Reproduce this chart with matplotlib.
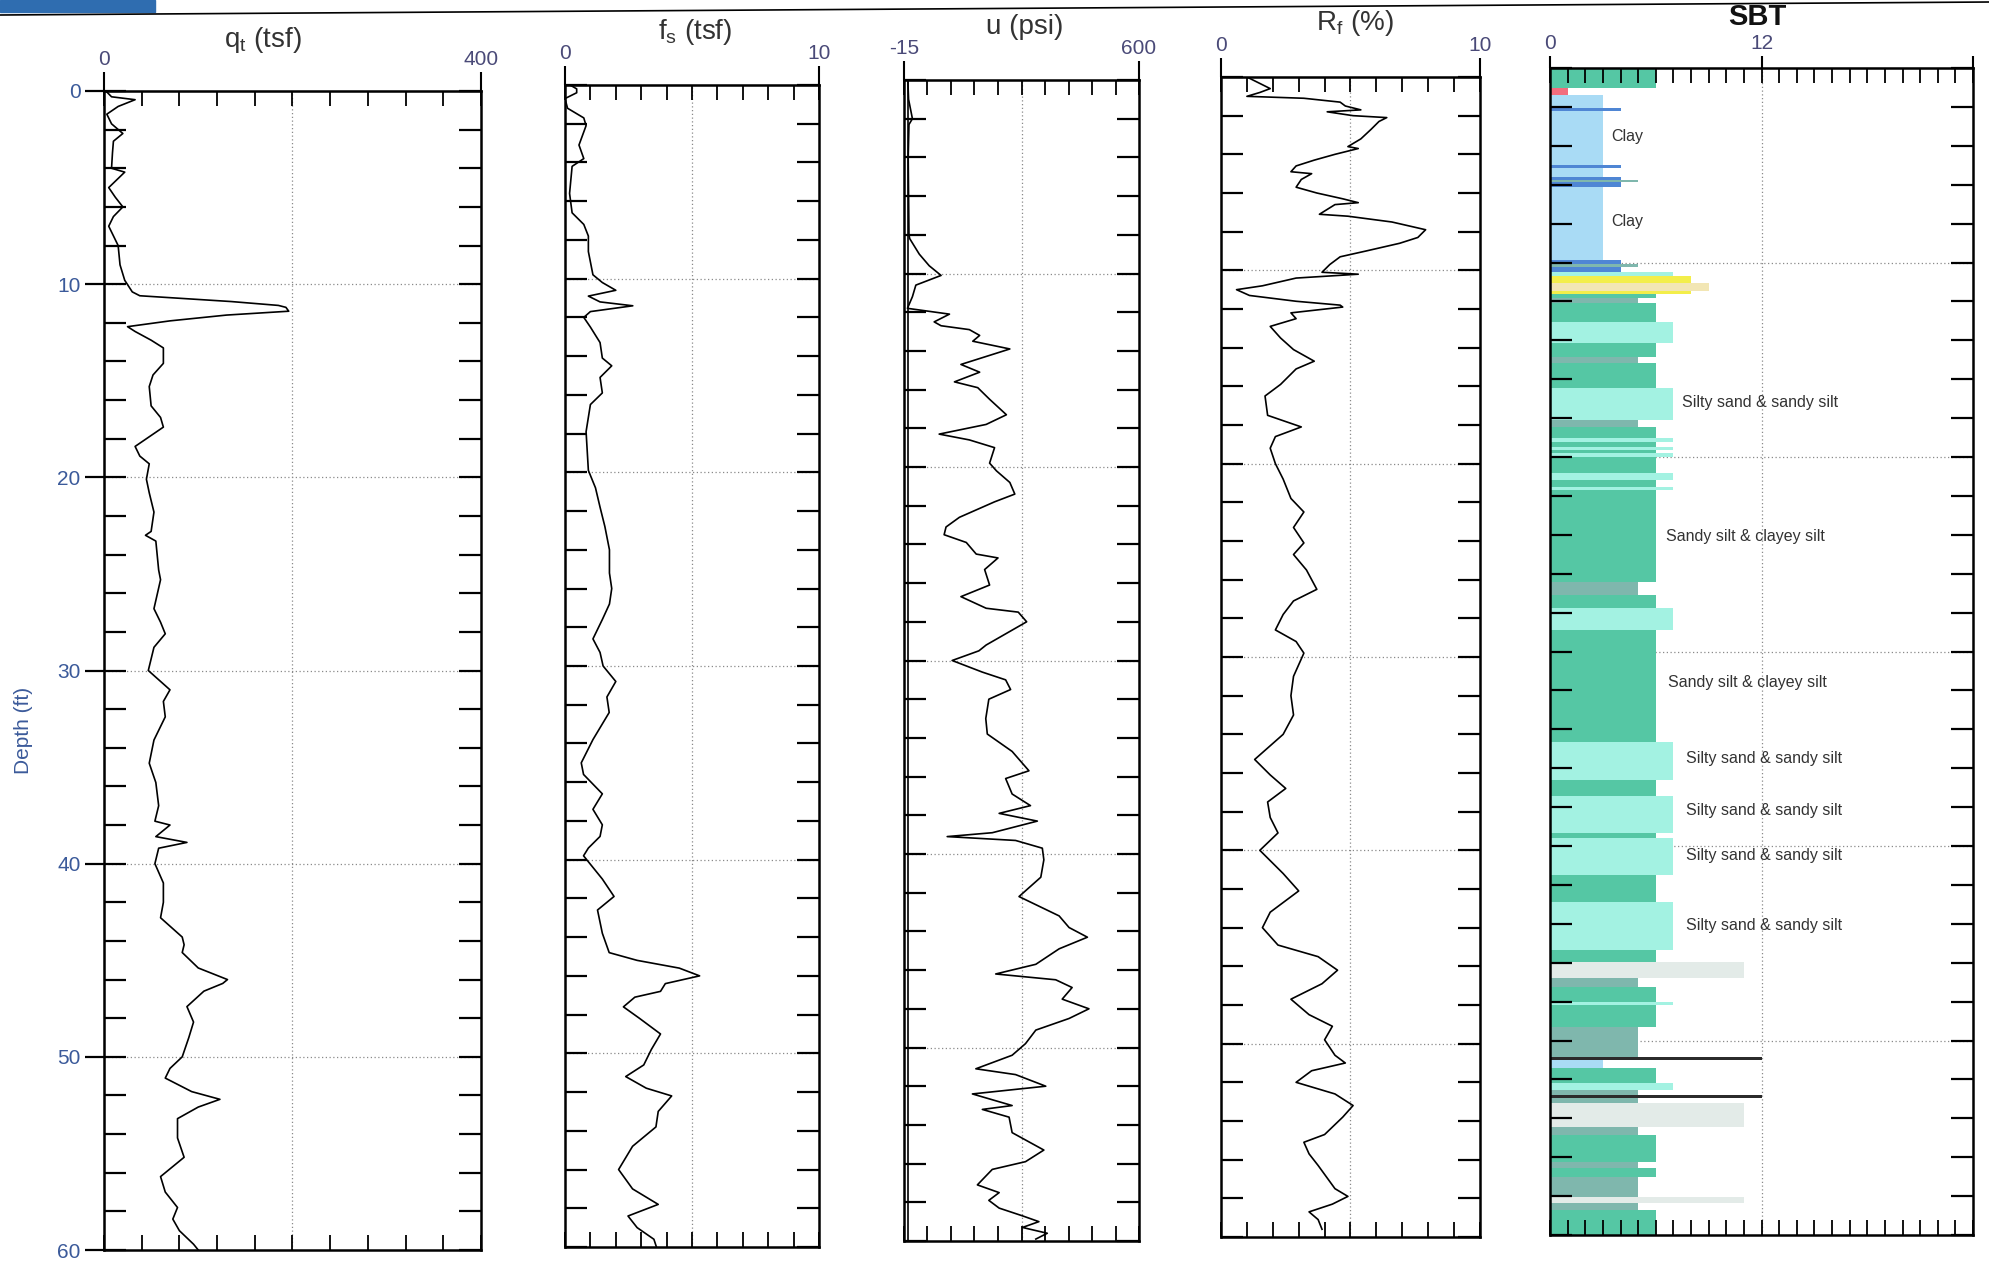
import numpy as np
import matplotlib
matplotlib.use('Agg')
import matplotlib.pyplot as plt
from matplotlib.patches import Rectangle
from matplotlib.lines import Line2D

plt.rcParams['font.family'] = ['Liberation Sans', 'DejaVu Sans']
plt.rcParams['mathtext.default'] = 'regular'

qt_depth = [0.0, 0.3, 0.45, 0.8, 1.2, 1.7, 2.2, 2.6, 3.2, 4.0, 4.2, 5.0, 5.5, 6.0, 6.5, 7.0, 8.0, 9.0,
            9.8, 10.4, 10.6, 10.9, 11.1, 11.2, 11.4, 11.6, 11.9, 12.2, 12.45, 12.9, 13.3, 14.1, 14.7,
            15.3, 16.3, 16.9, 17.4, 18.0, 18.4, 18.9, 19.3, 20.1, 20.8, 21.8, 22.8, 23.0, 23.3, 24.8,
            25.3, 26.8, 27.5, 28.1, 28.8, 30.0, 31.0, 31.6, 32.4, 33.6, 34.8, 35.8, 37.0, 37.8, 38.0,
            38.6, 38.9, 39.2, 40.0, 41.0, 42.0, 42.8, 43.8, 44.2, 44.6, 45.4, 46.0, 46.2, 46.6, 47.4,
            48.2, 49.0, 50.0, 50.6, 51.1, 51.8, 52.2, 52.6, 53.2, 54.2, 55.2, 56.2, 57.0, 57.8, 58.4,
            59.0, 59.7, 60.0]
qt = [2, 8, 33, 15, 3, 8, 20, 10, 9, 8, 22, 5, 12, 20, 10, 5, 15, 17,
      22, 30, 38, 135, 185, 193, 196, 130, 70, 25, 33, 50, 63, 63, 52,
      48, 50, 60, 63, 45, 33, 38, 48, 45, 48, 53, 50, 44, 55, 58,
      60, 53, 60, 65, 53, 47, 70, 63, 65, 53, 48, 55, 58, 54, 70,
      55, 88, 58, 54, 63, 63, 60, 83, 85, 83, 100, 131, 126, 106, 88,
      95, 90, 83, 70, 65, 93, 123, 100, 78, 78, 85, 60, 65, 78, 73,
      80, 95, 100]

fs_depth = [0.0, 0.2, 0.4, 0.7, 1.2, 1.7, 2.1, 3.1, 3.8, 4.2, 5.6, 6.6, 7.2, 7.8, 8.6, 9.8, 10.2,
            10.6, 10.9, 11.2, 11.4, 11.7, 12.0, 12.5, 13.3, 14.1, 14.5, 15.1, 15.9, 16.5, 17.9, 19.9,
            20.8, 21.8, 22.8, 24.0, 25.2, 26.0, 26.8, 27.6, 28.6, 29.3, 30.0, 30.8, 31.6, 32.4, 33.8,
            35.0, 35.6, 36.6, 37.4, 38.2, 38.8, 39.4, 39.8, 41.0, 41.9, 42.6, 43.8, 44.8, 45.2, 45.6,
            46.0, 46.4, 46.8, 47.1, 47.6, 48.2, 49.0, 49.8, 50.6, 51.2, 51.8, 52.2, 53.0, 53.8, 54.8,
            56.0, 57.0, 57.8, 58.4, 59.0, 59.6, 60.0]
fs = [0.2, 0.46, 0.46, 0.0, 0.1, 0.74, 0.83, 0.55, 0.74, 0.28, 0.18, 0.28, 0.74, 0.92, 0.92, 1.1, 1.47,
      2.0, 0.92, 1.38, 2.67, 1.0, 0.74, 1.0, 1.38, 1.47, 1.84, 1.38, 1.47, 1.0, 0.83, 0.92,
      1.2, 1.38, 1.57, 1.75, 1.75, 1.84, 1.75, 1.47, 1.1, 1.38, 1.5, 2.0, 1.65, 1.74, 1.1,
      0.64, 0.73, 1.47, 1.1, 1.47, 1.38, 0.92, 0.73, 1.47, 1.93, 1.28, 1.47, 1.74, 2.84, 4.5,
      5.3, 3.95, 3.76, 2.75, 2.3, 2.94, 3.76, 3.4, 3.1, 2.39, 3.2, 4.2, 3.67, 3.58, 2.66,
      2.11, 2.66, 3.67, 2.48, 2.84, 3.5, 3.6]

u_depth = [0.0, 1.0, 2.0, 2.3, 4.0, 6.0, 8.0, 8.2, 9.0, 9.6, 10.1, 10.6, 11.2, 11.8, 12.1, 12.5, 12.7,
           12.9, 13.2, 13.5, 13.9, 14.7, 15.1, 15.6, 15.9, 16.5, 17.3, 17.8, 18.3, 18.6, 19.0, 19.8,
           20.2, 20.8, 21.4, 21.8, 22.6, 23.1, 23.5, 23.9, 24.5, 24.7, 25.3, 26.1, 26.7, 27.3, 27.5,
           28.0, 28.6, 29.2, 29.5, 30.0, 30.6, 31.0, 31.5, 32.0, 33.0, 33.8, 34.7, 35.7, 36.1, 36.9,
           37.5, 37.9, 38.3, 38.9, 39.1, 39.3, 39.7, 40.3, 41.2, 42.2, 43.2, 43.8, 44.3, 44.9, 45.7,
           46.2, 46.5, 46.9, 47.5, 48.0, 48.5, 49.1, 49.8, 50.4, 51.1, 51.4, 52.0, 52.4, 53.0, 53.2,
           53.6, 54.4, 55.3, 55.9, 56.3, 57.1, 57.5, 57.9, 58.3, 58.7, 59.0, 59.3, 59.6, 59.9]
u = [-5, -3, 7, -2, -4, -3, -2, 0, 25, 51, 82, 16, 7, -6, 104, 64, 82,
     156, 183, 165, 262, 134, 183, 117, 178, 209, 253, 200, 77, 156, 222, 209,
     227, 262, 275, 222, 130, 95, 90, 148, 174, 231, 196, 209, 134, 200, 284,
     306, 253, 200, 181, 111, 190, 251, 264, 207, 199, 203, 268, 312, 251, 268,
     316, 234, 334, 216, 98, 277, 347, 351, 343, 286, 391, 417, 465, 391, 330,
     225, 382, 425, 399, 469, 417, 330, 303, 268, 173, 277, 356, 164, 268, 190,
     260, 268, 351, 303, 216, 177, 234, 207, 234, 295, 338, 295, 360, 330]
u0_depth = [0, 60]
u0 = [-5, -5]

rf_depth = [0.0, 0.4, 0.6, 0.8, 1.0, 1.1, 1.3, 1.5, 1.7, 1.8, 2.0, 2.1, 2.3, 2.7, 3.2, 3.6, 3.7, 4.0,
            4.3, 4.6, 4.9, 5.0, 5.3, 5.7, 6.0, 6.3, 6.5, 6.6, 7.1, 7.2, 7.5, 7.9, 8.3, 8.6, 9.0, 9.3,
            9.7, 10.1, 10.2, 10.4, 10.8, 11.0, 11.3, 11.6, 11.8, 11.9, 12.2, 12.5, 12.9, 13.5, 14.1,
            14.7, 15.1, 15.9, 16.5, 17.5, 18.1, 18.6, 19.2, 20.0, 20.8, 21.8, 22.5, 23.3, 24.1, 24.7,
            25.5, 26.5, 27.1, 27.8, 28.6, 29.2, 29.8, 31.0, 32.0, 33.0, 34.0, 35.3, 36.1, 36.8, 37.5,
            38.3, 39.1, 40.0, 41.2, 42.1, 43.2, 44.0, 44.9, 45.5, 46.2, 46.9, 47.7, 48.5, 49.1, 49.8,
            50.6, 51.0, 51.4, 52.0, 52.6, 53.2, 53.8, 54.7, 55.1, 55.7, 56.3, 57.5, 57.9, 58.3, 58.7,
            59.1, 59.6]
rf = [1.0, 1.6, 1.9, 1.5, 1.0, 3.2, 4.6, 4.8, 5.4, 4.1, 5.1, 6.4, 6.1, 5.8, 5.4, 4.9, 5.3, 4.4,
      3.6, 2.9, 2.7, 3.5, 3.1, 2.9, 3.7, 4.7, 5.3, 4.4, 3.8, 4.9, 6.6, 7.9, 7.6, 6.9, 5.6, 4.6,
      4.2, 3.9, 5.3, 2.9, 1.6, 0.6, 1.1, 2.9, 4.6, 4.7, 2.7, 2.9, 1.9, 2.3, 2.8,
      3.6, 2.9, 2.3, 1.7, 1.8, 3.1, 2.1, 1.9, 2.1, 2.4, 2.7, 3.2, 2.8, 3.2, 2.8,
      3.3, 3.7, 2.8, 2.4, 2.1, 2.9, 3.2, 2.8, 2.7, 2.8, 2.4, 1.3, 1.9, 2.5, 1.8,
      1.9, 2.2, 1.5, 2.4, 3.0, 1.9, 1.6, 2.2, 3.75, 4.5, 3.9, 2.7, 3.4, 4.3, 4.0,
      4.4, 4.8, 3.5, 2.9, 4.4, 5.1, 4.7, 4.0, 3.2, 3.4, 3.75, 4.4, 4.9, 4.3, 3.4,
      3.75, 3.9]

# SBT layers: top depth of each layer and its zone number (bar length)
sbt_top = [0.0, 1.05, 1.4, 2.07, 2.2, 4.99, 5.12, 5.59, 5.75, 5.84, 6.1, 9.87, 10.1, 10.25, 10.5,
           10.7, 11.05, 11.45, 11.6, 11.84, 12.1, 13.04, 14.16, 14.84, 15.18, 16.47, 18.1, 18.44,
           19.04, 19.21, 19.47, 19.64, 19.81, 19.98, 20.84, 21.18, 21.53, 21.7, 26.41, 27.1, 27.78,
           28.9, 34.64, 36.6, 37.42, 39.35, 39.6, 41.49, 42.86, 45.35, 45.95, 46.8, 47.23, 48.0,
           48.18, 49.29, 50.83, 51.0, 51.43, 52.2, 52.54, 52.8, 52.97, 53.23, 54.43, 54.86, 56.23,
           56.57, 57.0, 58.03, 58.37, 58.7]
sbt_zone = [6, 1, 3, 4, 3, 4, 3, 4, 5, 4, 3, 4, 5, 4, 7,
            8, 9, 8, 6, 5, 6, 7, 6, 5, 6, 7, 5, 6,
            7, 6, 7, 6, 7, 6, 7, 6, 7, 6, 5, 6, 7,
            6, 7, 6, 7, 6, 7, 6, 7, 6, 11, 5, 6, 7,
            6, 5, 12, 3, 6, 7, 5, 12, 5, 11, 5, 6, 5,
            6, 5, 11, 5, 6]
sbt_end = 60.0
zone_colors = {1: '#f26d7d', 3: '#a9dbf5', 4: '#4f86d4', 5: '#7fb7ad', 6: '#55c7a4',
               7: '#a3f2e2', 8: '#f3ee4a', 9: '#f2e6b4', 11: '#e3ebe8', 12: '#2b2b2b'}

sbt_labels = ['Clay', 'Clay', 'Silty sand & sandy silt', 'Sandy silt & clayey silt',
              'Sandy silt & clayey silt', 'Silty sand & sandy silt', 'Silty sand & sandy silt',
              'Silty sand & sandy silt', 'Silty sand & sandy silt']
sbt_label_depth = [3.5, 7.9, 17.2, 24.1, 31.6, 35.5, 38.2, 40.5, 44.1]
sbt_label_x = [3.5, 3.5, 7.5, 6.6, 6.7, 7.7, 7.7, 7.7, 7.7]

grid_depths = [10, 20, 30, 40, 50]

# ---- figure ----
W, H = 1990, 1261
fig = plt.figure(figsize=(W / 100, H / 100), dpi=100)


def box(l, t, r, b):
    return [l / W, 1 - b / H, (r - l) / W, (b - t) / H]


label_col = '#4a4a78'


def make_track(rect, lo, hi, nint, top_labels, grid_x, top_len=14):
    ax = fig.add_axes(box(*rect))
    ax.set_xlim(lo, hi)
    ax.set_ylim(60, 0)
    for s in ax.spines.values():
        s.set_linewidth(1.8)
    ax.set_xticks(np.linspace(lo, hi, nint + 1))
    ax.tick_params(axis='x', top=True, bottom=True, direction='in', length=11, width=1.3,
                   labelbottom=False, labeltop=False)
    ax.set_yticks(np.arange(0, 61, 2))
    ax.tick_params(axis='y', left=True, right=True, direction='in', length=16, width=1.6,
                   labelleft=False)
    for d in grid_depths:
        ax.axhline(d, color='#8a8a8a', ls=(0, (1, 2)), lw=0.9, zorder=0.5)
    ax.axvline(grid_x, color='#8a8a8a', ls=(0, (1, 2)), lw=0.9, zorder=0.5)
    sec = ax.secondary_xaxis('top')
    sec.set_xticks(top_labels[0])
    sec.set_xticklabels(top_labels[1])
    sec.tick_params(direction='out', length=top_len, width=1.5, labelsize=15,
                    labelcolor=label_col, pad=2)
    return ax


ax1 = make_track((104, 91, 481, 1250), 0, 400, 10, ([0, 400], ['0', '400']), 200)
ax1.plot(qt, qt_depth, color='black', lw=1.2)
dep = ax1.secondary_yaxis('left')
dep.set_yticks(np.arange(0, 61, 10))
dep.tick_params(direction='out', length=14, width=1.6, labelsize=15, labelcolor='#3b5a9a', pad=3)

ax2 = make_track((565, 85, 819, 1247), 0, 10, 10, ([0, 10], ['0', '10']), 5)
ax2.plot(fs, fs_depth, color='black', lw=1.2)

ax3 = make_track((904, 80, 1139, 1241), -15, 600, 10, ([-15, 600], ['-15', '600']), 292.5)
ax3.plot(u0, u0_depth, color='black', lw=1.2)
ax3.plot(u, u_depth, color='black', lw=1.2)

ax4 = make_track((1221, 77, 1480, 1237), 0, 10, 10, ([0, 10], ['0', '10']), 5)
ax4.plot(rf, rf_depth, color='black', lw=1.2)

ax5 = make_track((1550, 68, 1973, 1235), 0, 24, 24, ([0, 12, 24], ['0', '12', '']), 12,
                 top_len=9)
bottoms = sbt_top[1:] + [sbt_end]
for top, bot, z in zip(sbt_top, bottoms, sbt_zone):
    ax5.barh(top, z, height=bot - top, left=0, align='edge', color=zone_colors[z],
             edgecolor='none', zorder=1)
for txt, d, x in zip(sbt_labels, sbt_label_depth, sbt_label_x):
    ax5.text(x, d, txt, fontsize=11.5, color='#333333', va='center', ha='left', zorder=3)

# titles
fig.text(263 / W, 1 - 40 / H, r'q$_{t}$ (tsf)', fontsize=20, color='#333333', ha='center', va='center')
fig.text(695 / W, 1 - 32 / H, r'f$_{s}$ (tsf)', fontsize=20, color='#333333', ha='center', va='center')
fig.text(1025 / W, 1 - 27 / H, 'u (psi)', fontsize=20, color='#333333', ha='center', va='center')
fig.text(1355 / W, 1 - 23 / H, r'R$_{f}$ (%)', fontsize=20, color='#333333', ha='center', va='center')
fig.text(1757 / W, 1 - 17 / H, 'SBT', fontsize=21, fontweight='bold', color='#111111',
         ha='center', va='center')
fig.text(24 / W, 1 - 730 / H, 'Depth (ft)', fontsize=15, color='#3b5a9a', rotation=90,
         ha='center', va='center')

# scanned page header remnants
fig.patches.append(Rectangle((0, 1 - 12 / H), 155 / W, 12 / H, transform=fig.transFigure,
                             color='#2f6db0', zorder=0))
fig.add_artist(Line2D([0, 1], [1 - 15 / H, 1 - 2 / H], transform=fig.transFigure,
                      color='black', lw=1.2))

fig.savefig('out.png', dpi=100)
